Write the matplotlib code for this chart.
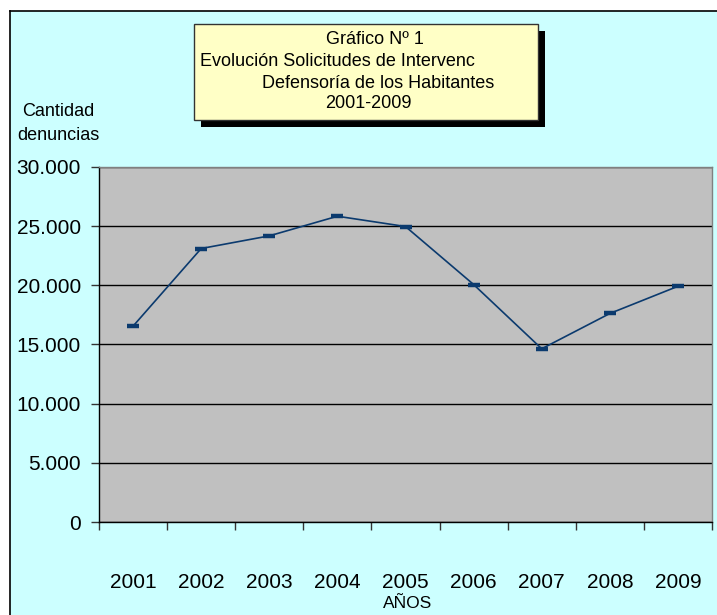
import matplotlib
matplotlib.use("Agg")
import matplotlib.pyplot as plt
from matplotlib.patches import Rectangle
from matplotlib.lines import Line2D

years = ["2001", "2002", "2003", "2004", "2005", "2006", "2007", "2008", "2009"]
denuncias = [16550, 23110, 24180, 25840, 24970, 20070, 14640, 17620, 19920]
y_ticks = [0, 5000, 10000, 15000, 20000, 25000, 30000]
y_tick_labels = ["0", "5.000", "10.000", "15.000", "20.000", "25.000", "30.000"]
title_lines = ["Gráfico Nº 1", "Evolución Solicitudes de Intervenc",
               "Defensoría de los Habitantes", "2001-2009"]

plt.rcParams['font.family'] = ['Liberation Sans', 'DejaVu Sans']

W, H = 717, 615
fig = plt.figure(figsize=(W / 100, H / 100), dpi=100)
fig.patch.set_facecolor('white')

def fx(x):
    return x / W

def fy(y):
    return 1 - y / H

# chart background (cyan) with black left/top border
bg = Rectangle((fx(10), 0), 1 - fx(10), fy(11), transform=fig.transFigure,
               facecolor='#CCFFFF', edgecolor='none', zorder=-10)
fig.patches.append(bg)
fig.lines.append(Line2D([fx(10), fx(10)], [0, fy(11)], transform=fig.transFigure,
                        color='black', lw=1.2, zorder=-9))
fig.lines.append(Line2D([fx(10), 1], [fy(11), fy(11)], transform=fig.transFigure,
                        color='black', lw=1.2, zorder=-9))

# plot area
ax = fig.add_axes([fx(99), fy(522), fx(712) - fx(99), fy(167) - fy(522)])
ax.set_zorder(5)
ax.set_facecolor('#C0C0C0')
x = list(range(1, len(years) + 1))
ax.plot(x, denuncias, color='#0B3A6E', lw=1.2, marker='_', markersize=9,
        markeredgewidth=3.2, markeredgecolor='#0B3A6E', zorder=3)

ax.set_xlim(0.5, len(years) + 0.5)
ax.set_ylim(0, 30000)
ax.set_yticks(y_ticks)
ax.set_yticklabels(y_tick_labels, fontsize=15)
ax.yaxis.grid(True, color='black', lw=1.0)
ax.set_axisbelow(True)

ax.set_xticks([i + 0.5 for i in range(0, len(years) + 1)])
ax.set_xticklabels([])
ax.set_xticks(x, minor=True)
ax.set_xticklabels(years, minor=True, fontsize=15)
ax.tick_params(axis='x', which='minor', length=0, pad=37)
ax.tick_params(axis='x', which='major', length=6, width=1, color='#333333')
ax.tick_params(axis='y', length=6, width=1, pad=7, color='#333333')

for s in ['left', 'bottom']:
    ax.spines[s].set_color('black')
    ax.spines[s].set_linewidth(1.0)
for s in ['top', 'right']:
    ax.spines[s].set_color('#808080')
    ax.spines[s].set_linewidth(1.0)

# axis titles
fig.text(fx(58), fy(112), "Cantidad", ha='center', va='center', fontsize=13, zorder=6)
fig.text(fx(58), fy(135), "denuncias", ha='center', va='center', fontsize=13, zorder=6)
fig.text(fx(408), fy(603), "AÑOS", ha='center', va='center', fontsize=12.5, zorder=6)

# title box with shadow
shadow = Rectangle((fx(201), fy(127)), fx(545) - fx(201), fy(31) - fy(127),
                   transform=fig.transFigure, facecolor='black', edgecolor='none', zorder=7)
box = Rectangle((fx(194), fy(120)), fx(538) - fx(194), fy(24) - fy(120),
                transform=fig.transFigure, facecolor='#FFFFC6', edgecolor='#333333',
                lw=1.0, zorder=8)
fig.patches.append(shadow)
fig.patches.append(box)

fs = 13
t1 = fig.text(fx(375), fy(40), title_lines[0], ha='center', va='center', fontsize=fs, zorder=9)
t2 = fig.text(fx(200), fy(62), title_lines[1], ha='left', va='center', fontsize=fs, zorder=9)
t3 = fig.text(fx(378), fy(83), title_lines[2], ha='center', va='center', fontsize=fs, zorder=9)
t4 = fig.text(fx(368), fy(104), title_lines[3], ha='center', va='center', fontsize=fs, zorder=9)
for t in (t1, t2, t3, t4):
    t.set_clip_path(box)

fig.savefig("out.png", dpi=100, facecolor=fig.get_facecolor())
